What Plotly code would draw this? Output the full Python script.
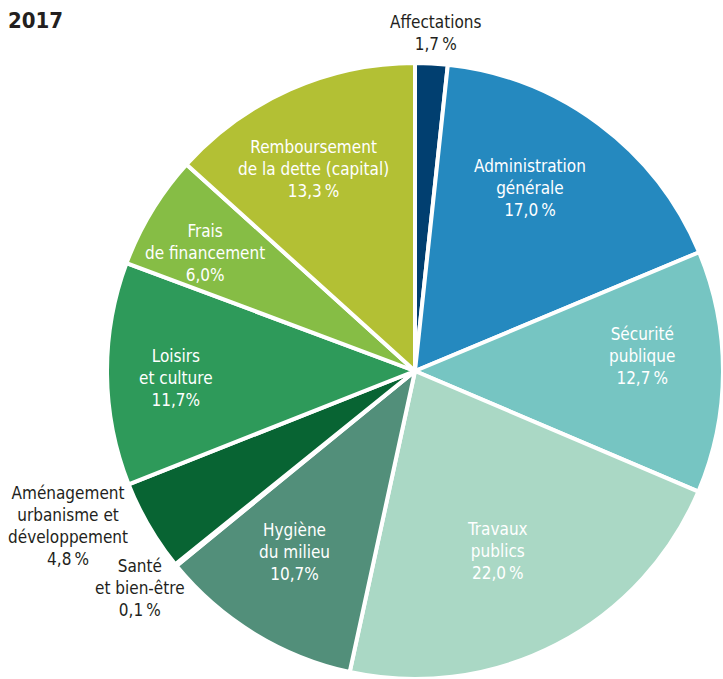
import plotly.graph_objects as go

categories = ["Affectations", "Administration générale", "Sécurité publique",
              "Travaux publics", "Hygiène du milieu", "Santé et bien-être",
              "Aménagement urbanisme et développement", "Loisirs et culture",
              "Frais de financement", "Remboursement de la dette (capital)"]
values = [1.7, 17.0, 12.7, 22.0, 10.7, 0.1, 4.8, 11.7, 6.0, 13.3]
label_texts = ["Affectations<br>1,7\u2009%", "Administration<br>générale<br>17,0\u2009%",
               "Sécurité<br>publique<br>12,7\u2009%", "Travaux<br>publics<br>22,0\u2009%",
               "Hygiène<br>du milieu<br>10,7%", "Santé<br>et bien-être<br>0,1\u2009%",
               "Aménagement<br>urbanisme et<br>développement<br>4,8\u2009%",
               "Loisirs<br>et culture<br>11,7%", "Frais<br>de financement<br>6,0%",
               "Remboursement<br>de la dette (capital)<br>13,3\u2009%"]
colors = ["#013f70", "#2589bf", "#76c5c2", "#aad8c5", "#528f7a", "#0d4d4f",
          "#086433", "#2e9a5a", "#86bd45", "#b3c034"]
text_colors = ["#231f20", "white", "white", "white", "white", "#231f20",
               "#231f20", "white", "white", "white"]

W, H = 723, 679
# label centres (pixels from top-left)
label_pos = [(435, 33), (530, 188), (642, 356), (497, 551), (294, 552),
             (140, 588), (68, 526), (176, 378), (205, 253), (313, 169)]

FONT = "DejaVu Sans Condensed, Liberation Sans Narrow, Arial Narrow, sans-serif"

fig = go.Figure(go.Pie(
    labels=categories, values=values, sort=False, direction="clockwise",
    rotation=0, textinfo="none", hoverinfo="label+value",
    marker=dict(colors=colors, line=dict(color="white", width=4)),
    domain=dict(x=[107 / W, 1], y=[0, 1 - 63 / H]),
    showlegend=False,
))

annotations = [dict(text="<b>2017</b>", x=6 / W, y=1 - 20.5 / H, xref="paper", yref="paper",
                    xanchor="left", yanchor="middle", showarrow=False,
                    font=dict(family=FONT, size=22, color="#231f20"))]
for t, (px, py), c in zip(label_texts, label_pos, text_colors):
    annotations.append(dict(text=t, x=px / W, y=1 - py / H, xref="paper", yref="paper",
                            xanchor="center", yanchor="middle", showarrow=False,
                            font=dict(family=FONT, size=17, color=c)))

fig.update_layout(width=W, height=H, margin=dict(l=0, r=0, t=0, b=0),
                  paper_bgcolor="white", plot_bgcolor="white",
                  annotations=annotations)
fig.write_html("out.html", config={"displayModeBar": False},
               post_script="document.body.style.margin='0px';document.body.style.overflow='hidden';")
